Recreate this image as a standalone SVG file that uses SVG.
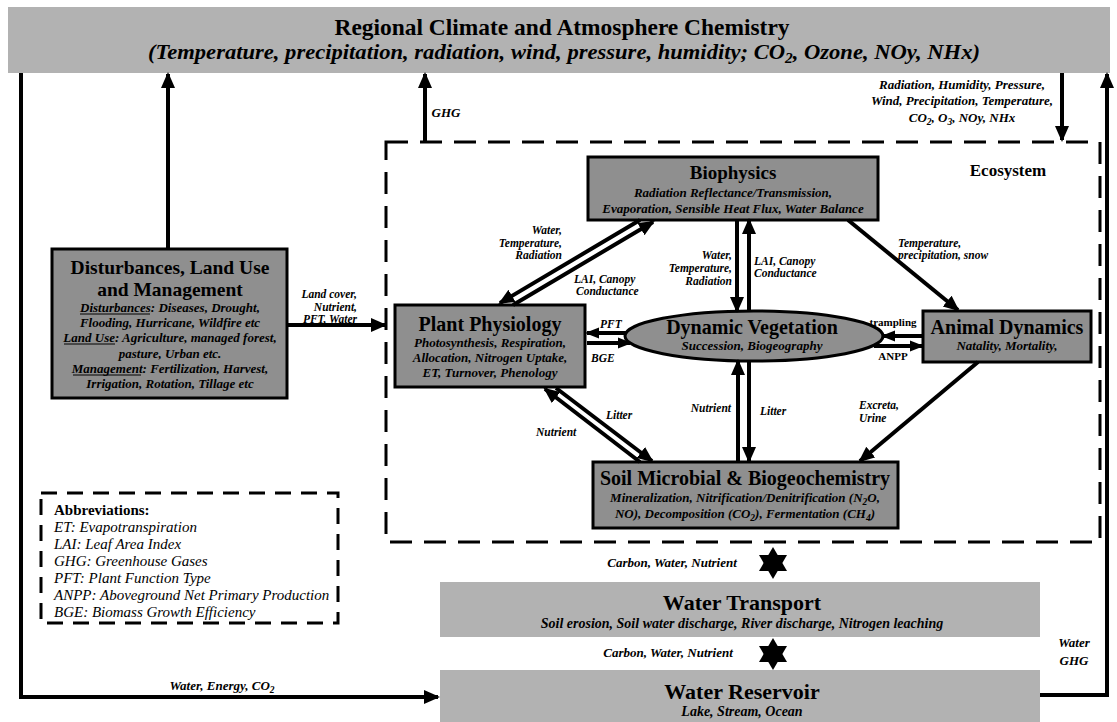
<svg xmlns="http://www.w3.org/2000/svg" width="1117" height="722" viewBox="0 0 1117 722" font-family="Liberation Serif, serif">
<defs>
<marker id="ah" markerUnits="userSpaceOnUse" markerWidth="16" markerHeight="16" viewBox="0 0 16 16" refX="14" refY="8" orient="auto">
<path d="M0,1 L16,8 L0,15 z" fill="#000"/>
</marker>
<marker id="ahs" markerUnits="userSpaceOnUse" markerWidth="14" markerHeight="14" viewBox="0 0 14 14" refX="12" refY="7" orient="auto">
<path d="M0,1.5 L14,7 L0,12.5 z" fill="#000"/>
</marker>
</defs>
<style>
text{fill:#000}
.t{font-family:Liberation Serif,serif;font-weight:bold;text-anchor:middle}
.s{font-family:Liberation Serif,serif;font-weight:bold;font-style:italic;text-anchor:middle}
.l{font-family:Liberation Serif,serif;font-weight:bold;font-style:italic;font-size:11.5px}
.a{font-family:Liberation Serif,serif;font-style:italic;font-size:15px}
.box{fill:#8f8f8f;stroke:#000;stroke-width:3}
.lbox{fill:#b2b2b2}
.c{stroke:#000;stroke-width:4;fill:none}
.d{fill:none;stroke:#000;stroke-width:3;stroke-dasharray:22 12}
.d2{fill:none;stroke:#000;stroke-width:3;stroke-dasharray:16 10}
.u{stroke:#000;stroke-width:1}
</style>
<rect width="1117" height="722" fill="#fff"/>

<g id="climate">
<rect class="lbox" x="8" y="7" width="1102" height="66"/>
<text class="t" font-family="Liberation Serif" x="562" y="35" font-size="23.5" textLength="455" lengthAdjust="spacingAndGlyphs">Regional Climate and Atmosphere Chemistry</text>
<text class="s" font-family="Liberation Serif" x="564" y="59" font-size="22" textLength="832" lengthAdjust="spacingAndGlyphs">(Temperature, precipitation, radiation, wind, pressure, humidity; CO<tspan font-size="15" dy="4">2</tspan><tspan dy="-4">, Ozone, NOy, NHx)</tspan></text>
</g>

<g id="ecosystem">
<rect class="d" x="386" y="142" width="714" height="400"/>
<text class="t" font-family="Liberation Serif" x="1008" y="176" font-size="17">Ecosystem</text>
</g>

<g id="abbreviations">
<rect class="d2" x="41" y="493" width="297" height="130"/>
<text font-family="Liberation Serif" x="54" y="515" font-size="15" font-weight="bold">Abbreviations:</text>
<text class="a" font-family="Liberation Serif" x="54" y="532">ET: Evapotranspiration</text>
<text class="a" font-family="Liberation Serif" x="54" y="549">LAI: Leaf Area Index</text>
<text class="a" font-family="Liberation Serif" x="54" y="566">GHG: Greenhouse Gases</text>
<text class="a" font-family="Liberation Serif" x="54" y="583">PFT: Plant Function Type</text>
<text class="a" font-family="Liberation Serif" x="54" y="600">ANPP: Aboveground Net Primary Production</text>
<text class="a" font-family="Liberation Serif" x="54" y="617">BGE: Biomass Growth Efficiency</text>
</g>

<g id="disturbances">
<rect class="box" x="52" y="249" width="235" height="149"/>
<text class="t" font-family="Liberation Serif" x="170" y="274" font-size="19.5">Disturbances, Land Use</text>
<text class="t" font-family="Liberation Serif" x="170" y="296" font-size="19.5">and Management</text>
<text class="s" font-family="Liberation Serif" font-size="13" x="170" y="312">Disturbances: Diseases, Drought,</text>
<text class="s" font-family="Liberation Serif" font-size="13" x="170" y="327">Flooding, Hurricane, Wildfire etc</text>
<text class="s" font-family="Liberation Serif" font-size="13" x="170" y="342">Land Use: Agriculture, managed forest,</text>
<text class="s" font-family="Liberation Serif" font-size="13" x="170" y="358">pasture, Urban etc.</text>
<text class="s" font-family="Liberation Serif" font-size="13" x="170" y="373">Management: Fertilization, Harvest,</text>
<text class="s" font-family="Liberation Serif" font-size="13" x="170" y="388">Irrigation, Rotation, Tillage etc</text>
<line class="u" x1="80" y1="314" x2="150" y2="314"/>
<line class="u" x1="64" y1="344" x2="115" y2="344"/>
<line class="u" x1="73" y1="375" x2="141" y2="375"/>
</g>

<g id="biophysics">
<rect class="box" x="588" y="157" width="290" height="63"/>
<text class="t" font-family="Liberation Serif" x="733" y="179" font-size="19">Biophysics</text>
<text class="s" font-family="Liberation Serif" x="733" y="197" font-size="13">Radiation Reflectance/Transmission,</text>
<text class="s" font-family="Liberation Serif" x="733" y="213" font-size="13">Evaporation, Sensible Heat Flux, Water Balance</text>
</g>

<g id="plant">
<rect class="box" x="395" y="305" width="190" height="82"/>
<text class="t" font-family="Liberation Serif" x="490" y="331" font-size="20">Plant Physiology</text>
<text class="s" font-family="Liberation Serif" x="490" y="347" font-size="13">Photosynthesis, Respiration,</text>
<text class="s" font-family="Liberation Serif" x="490" y="362" font-size="13">Allocation, Nitrogen Uptake,</text>
<text class="s" font-family="Liberation Serif" x="490" y="377" font-size="13">ET, Turnover, Phenology</text>
</g>

<g id="dynveg">
<ellipse cx="754" cy="336" rx="129" ry="25" fill="#8f8f8f" stroke="#000" stroke-width="3"/>
<text class="t" font-family="Liberation Serif" x="752" y="334" font-size="20">Dynamic Vegetation</text>
<text class="s" font-family="Liberation Serif" x="752" y="350" font-size="13">Succession, Biogeography</text>
</g>

<g id="animal">
<rect class="box" x="923" y="311" width="168" height="51"/>
<text class="t" font-family="Liberation Serif" x="1007" y="334" font-size="20">Animal Dynamics</text>
<text class="s" font-family="Liberation Serif" x="1007" y="350" font-size="13">Natality, Mortality,</text>
</g>

<g id="soil">
<rect class="box" x="593" y="462" width="305" height="66"/>
<text class="t" font-family="Liberation Serif" x="745" y="485" font-size="20">Soil Microbial &amp; Biogeochemistry</text>
<text class="s" font-family="Liberation Serif" x="745" y="502" font-size="13">Mineralization, Nitrification/Denitrification (N<tspan font-size="9.5" dy="3">2</tspan><tspan dy="-3">O,</tspan></text>
<text class="s" font-family="Liberation Serif" x="745" y="518" font-size="13">NO), Decomposition (CO<tspan font-size="9.5" dy="3">2</tspan><tspan dy="-3">), Fermentation (CH</tspan><tspan font-size="9.5" dy="3">4</tspan><tspan dy="-3">)</tspan></text>
</g>

<g id="transport">
<rect class="lbox" x="440" y="582" width="600" height="55"/>
<text class="t" font-family="Liberation Serif" x="742" y="610" font-size="22">Water Transport</text>
<text class="s" font-family="Liberation Serif" x="742" y="628" font-size="14">Soil erosion, Soil water discharge, River discharge, Nitrogen leaching</text>
</g>

<g id="reservoir">
<rect class="lbox" x="440" y="670" width="600" height="52"/>
<text class="t" font-family="Liberation Serif" x="742" y="699" font-size="22">Water Reservoir</text>
<text class="s" font-family="Liberation Serif" x="742" y="716" font-size="14">Lake, Stream, Ocean</text>
</g>

<g id="connectors">
<polyline class="c" points="21,73 21,697 438,697" marker-end="url(#ah)"/>
<polyline class="c" points="1040,695 1107,695 1107,74" marker-end="url(#ah)"/>
<line class="c" x1="168" y1="249" x2="168" y2="74" marker-end="url(#ah)"/>
<line class="c" x1="425" y1="142" x2="425" y2="74" marker-end="url(#ah)"/>
<line class="c" x1="1062" y1="73" x2="1062" y2="140" marker-end="url(#ah)"/>
<line class="c" x1="287" y1="325" x2="385" y2="325" marker-end="url(#ah)"/>
<line class="c" x1="640" y1="220" x2="500" y2="303" marker-end="url(#ah)"/>
<line class="c" x1="513" y1="305" x2="653" y2="222" marker-end="url(#ah)"/>
<line class="c" x1="737" y1="220" x2="737" y2="311" marker-end="url(#ah)"/>
<line class="c" x1="749" y1="311" x2="749" y2="220" marker-end="url(#ah)"/>
<line class="c" x1="848" y1="220" x2="958" y2="310" marker-end="url(#ah)"/>
<line class="c" x1="626" y1="333" x2="587" y2="333" marker-end="url(#ahs)"/>
<line class="c" x1="587" y1="343" x2="630" y2="343" marker-end="url(#ahs)"/>
<line class="c" x1="922" y1="336" x2="883" y2="336" marker-end="url(#ahs)"/>
<line class="c" x1="874" y1="346" x2="922" y2="346" marker-end="url(#ahs)"/>
<line class="c" x1="640" y1="462" x2="545" y2="389" marker-end="url(#ah)"/>
<line class="c" x1="556" y1="388" x2="652" y2="461" marker-end="url(#ah)"/>
<line class="c" x1="738" y1="461" x2="738" y2="361" marker-end="url(#ah)"/>
<line class="c" x1="749" y1="361" x2="749" y2="461" marker-end="url(#ah)"/>
<line class="c" x1="978" y1="362" x2="860" y2="461" marker-end="url(#ah)"/>
<polygon points="773,547 787,571 759,571" fill="#000"/>
<polygon points="773,579 787,555 759,555" fill="#000"/>
<polygon points="773,638 787,662 759,662" fill="#000"/>
<polygon points="773,670 787,646 759,646" fill="#000"/>
</g>

<g id="labels">
<text class="s" font-family="Liberation Serif" font-size="13" x="446" y="117">GHG</text>
<text class="s" font-family="Liberation Serif" font-size="13" x="962" y="89">Radiation, Humidity, Pressure,</text>
<text class="s" font-family="Liberation Serif" font-size="13" x="962" y="105">Wind, Precipitation, Temperature,</text>
<text class="s" font-family="Liberation Serif" font-size="13" x="962" y="122">CO<tspan font-size="9.5" dy="3">2</tspan><tspan dy="-3">, O</tspan><tspan font-size="9.5" dy="3">3</tspan><tspan dy="-3">, NOy, NHx</tspan></text>
<text class="l" font-family="Liberation Serif" text-anchor="end" x="357" y="298">Land cover,</text>
<text class="l" font-family="Liberation Serif" text-anchor="end" x="357" y="311">Nutrient,</text>
<text class="l" font-family="Liberation Serif" text-anchor="end" x="357" y="323">PFT, Water</text>
<text class="l" font-family="Liberation Serif" text-anchor="end" x="562" y="234">Water,</text>
<text class="l" font-family="Liberation Serif" text-anchor="end" x="562" y="247">Temperature,</text>
<text class="l" font-family="Liberation Serif" text-anchor="end" x="562" y="259">Radiation</text>
<text class="l" font-family="Liberation Serif" text-anchor="end" x="732" y="259">Water,</text>
<text class="l" font-family="Liberation Serif" text-anchor="end" x="732" y="272">Temperature,</text>
<text class="l" font-family="Liberation Serif" text-anchor="end" x="732" y="285">Radiation</text>
<text class="l" font-family="Liberation Serif" text-anchor="end" x="731" y="412">Nutrient</text>
<text class="l" font-family="Liberation Serif" x="574" y="283">LAI, Canopy</text>
<text class="l" font-family="Liberation Serif" x="576" y="295">Conductance</text>
<text class="l" font-family="Liberation Serif" x="754" y="265">LAI, Canopy</text>
<text class="l" font-family="Liberation Serif" x="754" y="277">Conductance</text>
<text class="l" font-family="Liberation Serif" x="898" y="247">Temperature,</text>
<text class="l" font-family="Liberation Serif" x="898" y="259">precipitation, snow</text>
<text class="l" font-family="Liberation Serif" x="600" y="328">PFT</text>
<text class="l" font-family="Liberation Serif" x="591" y="362">BGE</text>
<text class="l" font-family="Liberation Serif" x="606" y="419">Litter</text>
<text class="l" font-family="Liberation Serif" x="536" y="436">Nutrient</text>
<text class="l" font-family="Liberation Serif" x="760" y="415">Litter</text>
<text class="l" font-family="Liberation Serif" x="859" y="409">Excreta,</text>
<text class="l" font-family="Liberation Serif" x="859" y="422">Urine</text>
<text class="t" font-family="Liberation Serif" x="893" y="326" font-size="11">trampling</text>
<text class="t" font-family="Liberation Serif" x="893" y="360" font-size="11">ANPP</text>
<text class="s" font-family="Liberation Serif" font-size="13" x="672" y="567">Carbon, Water, Nutrient</text>
<text class="s" font-family="Liberation Serif" font-size="13" x="668" y="657">Carbon, Water, Nutrient</text>
<text class="s" font-family="Liberation Serif" font-size="13" x="222" y="690">Water, Energy, CO<tspan font-size="9.5" dy="3">2</tspan></text>
<text class="s" font-family="Liberation Serif" font-size="13" x="1074" y="647">Water</text>
<text class="s" font-family="Liberation Serif" font-size="13" x="1074" y="665">GHG</text>
</g>
</svg>
